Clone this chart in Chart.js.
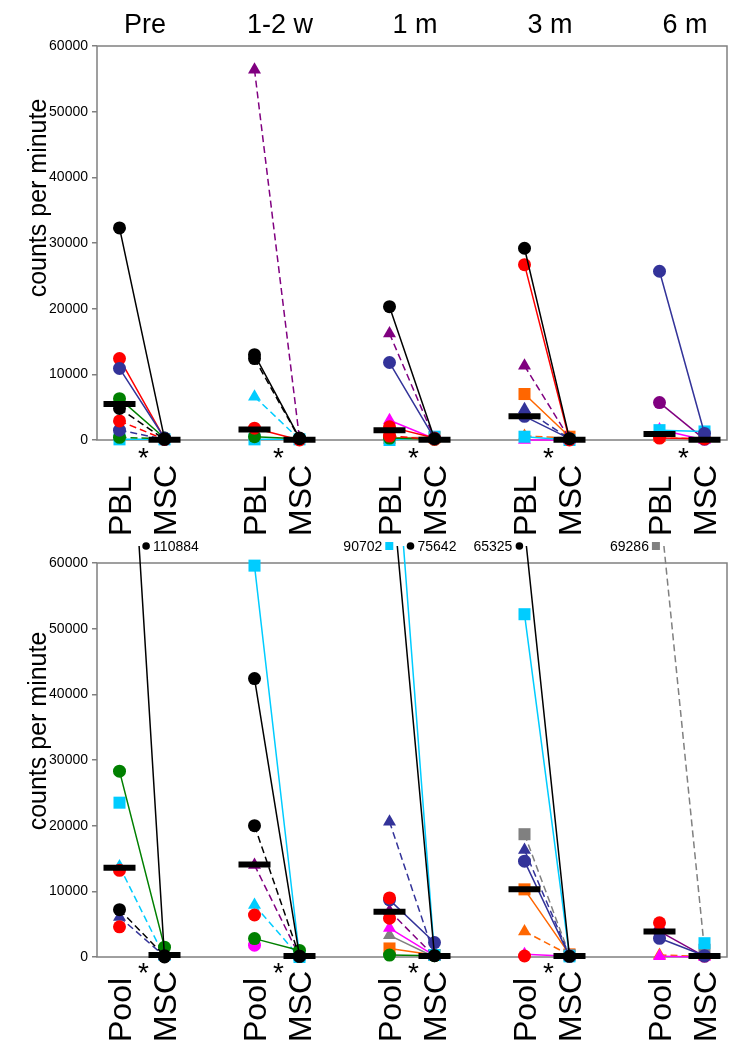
<!DOCTYPE html>
<html><head><meta charset="utf-8">
<script src="https://cdn.jsdelivr.net/npm/chart.js@4"></script>
<style>
body{margin:0;background:#fff;width:750px;height:1050px;overflow:hidden;position:relative}
#c1{position:absolute;left:0;top:0;width:750px;height:545px}
#c2{position:absolute;left:0;top:525px;width:750px;height:525px}
</style>
</head><body>
<canvas id="c1" width="750" height="545"></canvas>
<canvas id="c2" width="750" height="525"></canvas>
<script>
// ---------- categories & ticks ----------
const timepoints = ['Pre', '1-2 w', '1 m', '3 m', '6 m'];
const yTickValues = [0, 10000, 20000, 30000, 40000, 50000, 60000];
const topGroupLabels = ['PBL', 'MSC'];
const bottomGroupLabels = ['Pool', 'MSC'];
const topSignificant = [true, true, true, true, true];
const bottomSignificant = [true, true, true, true, false];

// ---------- medians ----------
const topMedianPBL = [5500, 1600, 1500, 3600, 900];
const topMedianMSC = [50, 50, 50, 50, 50];
const bottomMedianPool = [13600, 14100, 6900, 10300, 3900];
const bottomMedianMSC = [300, 150, 150, 150, 150];

// ---------- top panel (PBL -> MSC), one value per timepoint ----------
const topBlackSolidPBL = [32300, 13000, 20300, 29200, null];
const topBlackSolidMSC = [200, 300, 200, 200, null];
const topBlackDashPBL = [4800, 12400, null, null, null];
const topBlackDashMSC = [100, 200, null, null, null];
const topRedSolidPBL = [12400, 1800, 2000, 26700, 300];
const topRedSolidMSC = [200, 0, 300, 0, 200];
const topRedDashPBL = [2900, null, 600, null, null];
const topRedDashMSC = [100, null, 100, null, null];
const topNavySolidPBL = [10900, null, 11800, 3600, 25700];
const topNavySolidMSC = [300, null, 200, 200, 1000];
const topNavyDashPBL = [1500, null, null, null, null];
const topNavyDashMSC = [100, null, null, null, null];
const topNavyTriPBL = [null, null, null, 4700, null];
const topNavyTriMSC = [null, null, null, 200, null];
const topGreenSolidPBL = [6300, 500, 300, null, null];
const topGreenSolidMSC = [300, 200, 100, null, null];
const topGreenDashPBL = [400, null, null, null, null];
const topGreenDashMSC = [200, null, null, null, null];
const topCyanSqPBL = [100, 100, 0, 500, 1500];
const topCyanSqMSC = [100, 100, 500, 0, 1300];
const topCyanTriPBL = [null, 6600, null, null, null];
const topCyanTriMSC = [null, 100, null, null, null];
const topPurpleTriPBL = [null, 56400, 16200, 11300, null];
const topPurpleTriMSC = [null, 200, 200, 200, null];
const topPurpleCirPBL = [null, null, null, null, 5700];
const topPurpleCirMSC = [null, null, null, null, 100];
const topOrangeSqPBL = [null, null, 300, 7000, null];
const topOrangeSqMSC = [null, null, 400, 500, null];
const topOrangeTriPBL = [null, null, null, 600, 300];
const topOrangeTriMSC = [null, null, null, 300, 200];
const topMagentaTriPBL = [null, null, 3000, 0, 1600];
const topMagentaTriMSC = [null, null, 200, 0, 0];

// ---------- bottom panel (Pool -> MSC) ----------
const botBlackSolidPool = [110884, 42400, 75642, 65325, null];
const botBlackSolidMSC = [0, 100, 200, 100, null];
const botBlackDashPool = [7200, 20000, null, null, null];
const botBlackDashMSC = [200, 100, null, null, null];
const botRedAPool = [13200, 6400, 9000, 150, 5200];
const botRedAMSC = [null, null, null, null, null];
const botRedBPool = [4600, null, 5900, null, null];
const botRedBMSC = [null, null, null, null, null];
const botNavySolidPool = [null, null, 8700, 14600, 2850];
const botNavySolidMSC = [null, null, 2200, 100, 200];
const botNavyTriPool = [6100, null, 20600, 16300, null];
const botNavyTriMSC = [100, null, 200, 200, null];
const botGreenSolidPool = [28300, 2800, 300, null, null];
const botGreenSolidMSC = [1500, 1000, 200, null, null];
const botCyanSqPool = [23500, 59600, 90702, 52200, null];
const botCyanSqMSC = [null, 0, 300, 100, 2100];
const botCyanTriPool = [13800, 7900, null, null, null];
const botCyanTriMSC = [0, 0, null, null, null];
const botPurpleTriPool = [null, 14000, 7000, null, null];
const botPurpleTriMSC = [null, 100, 100, null, null];
const botPurpleCirPool = [null, null, null, null, 3900];
const botPurpleCirMSC = [null, null, null, null, 100];
const botMagentaCirPool = [null, 1800, null, null, null];
const botMagentaCirMSC = [null, null, null, null, null];
const botMagentaTriPool = [null, null, 4400, 400, 100];
const botMagentaTriMSC = [null, null, 200, 100, 0];
const botGreyTriPool = [null, null, 3300, null, null];
const botGreyTriMSC = [null, null, 0, null, null];
const botGreySqPool = [null, null, null, 18700, 69286];
const botGreySqMSC = [null, null, null, 300, 1100];
const botOrangeSqPool = [null, null, 1300, 10300, null];
const botOrangeSqMSC = [null, null, 300, 400, null];
const botOrangeTriPool = [null, null, null, 3900, 300];
const botOrangeTriMSC = [null, null, null, 300, 100];

// off-scale annotation side (label left/right of the line)
const offScaleSide = { blackSolid: ['right', null, 'right', 'left', null], cyanSq: [null, null, 'left', null, null], greySq: [null, null, null, null, 'left'] };

// ---------- styles ----------
const STYLES = {
  blackSolid: ['#000000', 'circle', false], blackDash: ['#000000', 'circle', true],
  redSolid: ['#ff0000', 'circle', false], redDash: ['#ff0000', 'circle', true],
  navySolid: ['#333399', 'circle', false], navyDash: ['#333399', 'circle', true],
  navyTri: ['#333399', 'triangle', true],
  greenSolid: ['#008000', 'circle', false], greenDash: ['#008000', 'circle', true],
  cyanSq: ['#00ccff', 'rect', false], cyanTri: ['#00ccff', 'triangle', true],
  purpleTri: ['#800080', 'triangle', true], purpleCir: ['#800080', 'circle', false],
  orangeSq: ['#ff6600', 'rect', false], orangeTri: ['#ff6600', 'triangle', true],
  magentaTri: ['#ff00ff', 'triangle', false], magentaCir: ['#ff00ff', 'circle', false],
  greyTri: ['#808080', 'triangle', false], greySq: ['#808080', 'rect', true],
  redA: ['#ff0000', 'circle', false], redB: ['#ff0000', 'circle', false]
};

const topSeries = [
  ['blackSolid', topBlackSolidPBL, topBlackSolidMSC], ['blackDash', topBlackDashPBL, topBlackDashMSC],
  ['navySolid', topNavySolidPBL, topNavySolidMSC], ['redSolid', topRedSolidPBL, topRedSolidMSC],
  ['redDash', topRedDashPBL, topRedDashMSC], ['navyDash', topNavyDashPBL, topNavyDashMSC],
  ['navyTri', topNavyTriPBL, topNavyTriMSC], ['greenSolid', topGreenSolidPBL, topGreenSolidMSC],
  ['greenDash', topGreenDashPBL, topGreenDashMSC], ['cyanSq', topCyanSqPBL, topCyanSqMSC],
  ['cyanTri', topCyanTriPBL, topCyanTriMSC], ['purpleTri', topPurpleTriPBL, topPurpleTriMSC],
  ['purpleCir', topPurpleCirPBL, topPurpleCirMSC], ['orangeSq', topOrangeSqPBL, topOrangeSqMSC],
  ['orangeTri', topOrangeTriPBL, topOrangeTriMSC], ['magentaTri', topMagentaTriPBL, topMagentaTriMSC]
];
const bottomSeries = [
  ['blackSolid', botBlackSolidPool, botBlackSolidMSC], ['blackDash', botBlackDashPool, botBlackDashMSC],
  ['redA', botRedAPool, botRedAMSC], ['redB', botRedBPool, botRedBMSC],
  ['navySolid', botNavySolidPool, botNavySolidMSC], ['navyTri', botNavyTriPool, botNavyTriMSC],
  ['greenSolid', botGreenSolidPool, botGreenSolidMSC], ['cyanSq', botCyanSqPool, botCyanSqMSC],
  ['cyanTri', botCyanTriPool, botCyanTriMSC], ['purpleTri', botPurpleTriPool, botPurpleTriMSC],
  ['purpleCir', botPurpleCirPool, botPurpleCirMSC], ['magentaCir', botMagentaCirPool, botMagentaCirMSC],
  ['magentaTri', botMagentaTriPool, botMagentaTriMSC], ['greyTri', botGreyTriPool, botGreyTriMSC],
  ['greySq', botGreySqPool, botGreySqMSC], ['orangeSq', botOrangeSqPool, botOrangeSqMSC],
  ['orangeTri', botOrangeTriPool, botOrangeTriMSC]
];

const FONT = '"Liberation Sans", Arial, sans-serif';
const radiusFor = { circle: 6.5, rect: 8.5, triangle: 7.5 };

function buildDatasets(series, medA, medB, clipTop) {
  const ds = [];
  const medData = [];
  timepoints.forEach((t, i) => { medData.push({ x: 3 * i, y: medA[i] }, { x: 3 * i + 1, y: medB[i] }); });
  ds.push({ data: medData, showLine: false, pointStyle: 'line', pointRadius: 16, pointBorderWidth: 6,
    borderColor: '#000', backgroundColor: '#000', order: 0, clip: { left: 20, right: 20, top: clipTop, bottom: 20 } });
  series.forEach(([key, a, b]) => {
    const [color, shape, dashed] = STYLES[key];
    const data = [];
    timepoints.forEach((t, i) => {
      if (a[i] != null) data.push({ x: 3 * i, y: a[i] });
      if (b[i] != null) data.push({ x: 3 * i + 1, y: b[i] });
      data.push({ x: 3 * i + 2, y: null });
    });
    ds.push({ data, showLine: true, spanGaps: false, borderColor: color, backgroundColor: color,
      borderWidth: 1.5, borderDash: dashed ? [7, 4] : [], pointStyle: shape, pointRadius: radiusFor[shape],
      pointBorderWidth: 0, pointBackgroundColor: color, pointBorderColor: color, order: 1,
      clip: { left: 20, right: 20, top: clipTop, bottom: 20 }, _key: key, _a: a, _b: b });
  });
  return ds;
}

const decor = {
  id: 'decor',
  beforeDatasetsDraw(chart, args, o) {
    const { ctx, chartArea: a } = chart;
    ctx.save(); ctx.strokeStyle = '#808080'; ctx.lineWidth = 1.5;
    ctx.strokeRect(a.left, a.top, a.right - a.left, a.bottom - a.top);
    ctx.restore();
  },
  afterDatasetsDraw(chart, args, o) {
    const { ctx, chartArea: a, scales: { x, y } } = chart;
    const yc = a.top - o.clipTop;
    const items = [];
    chart.data.datasets.forEach(d => {
      if (!d._key || !offScaleSide[d._key]) return;
      timepoints.forEach((t, i) => {
        const v = d._a[i], m = d._b[i], side = offScaleSide[d._key][i];
        if (v == null || m == null || !side || v <= y.max) return;
        const x1 = x.getPixelForValue(3 * i), y1 = y.getPixelForValue(v);
        const x2 = x.getPixelForValue(3 * i + 1), y2 = y.getPixelForValue(m);
        items.push({ i, v, side, key: d._key, xc: x1 + (x2 - x1) * (yc - y1) / (y2 - y1) });
      });
    });
    ctx.save();
    items.forEach(it => {
      const group = items.filter(o2 => o2.i === it.i).map(o2 => o2.xc);
      const sgn = it.side === 'right' ? 1 : -1;
      const edge = sgn > 0 ? Math.max(...group) : Math.min(...group);
      const shape = STYLES[it.key][1];
      const mx = edge + sgn * (shape === 'rect' ? 8 : 7);
      ctx.fillStyle = STYLES[it.key][0];
      if (shape === 'rect') ctx.fillRect(mx - 4, yc - 4, 8, 8);
      else { ctx.beginPath(); ctx.arc(mx, yc, 3.8, 0, Math.PI * 2); ctx.fill(); }
      ctx.fillStyle = '#000'; ctx.font = '14px ' + FONT; ctx.textBaseline = 'middle';
      ctx.textAlign = sgn > 0 ? 'left' : 'right';
      ctx.fillText(String(it.v), mx + sgn * 7, yc + 1);
    });
    ctx.restore();
  },
  afterDraw(chart, args, o) {
    const { ctx, chartArea: a, scales: { x } } = chart;
    ctx.save(); ctx.fillStyle = '#000';
    ctx.save();
    ctx.translate(o.yTitleX, (a.top + a.bottom) / 2 + o.yTitleShift);
    ctx.rotate(-Math.PI / 2);
    ctx.font = '25px ' + FONT; ctx.textAlign = 'center'; ctx.textBaseline = 'middle';
    ctx.fillText('counts per minute', 0, 0);
    ctx.restore();
    timepoints.forEach((t, i) => {
      const x0 = x.getPixelForValue(3 * i), x1 = x.getPixelForValue(3 * i + 1);
      if (o.titles) {
        ctx.font = '27px ' + FONT; ctx.textAlign = 'center'; ctx.textBaseline = 'middle';
        ctx.fillText(t, (x0 + x1) / 2 + 3, o.titleY);
      }
      if (o.sig[i]) {
        ctx.font = '28px ' + FONT; ctx.textAlign = 'center'; ctx.textBaseline = 'alphabetic';
        ctx.fillText('*', (x0 + x1) / 2 + 1.5, a.bottom + o.starOffset);
      }
      o.labels.forEach((lab, k) => {
        const px = k ? x1 : x0;
        ctx.save(); ctx.translate(px + 3, a.bottom + o.labelOffset); ctx.rotate(-Math.PI / 2);
        ctx.font = '32px ' + FONT; ctx.textAlign = 'left'; ctx.textBaseline = 'middle';
        ctx.fillText(lab, 0, 0); ctx.restore();
      });
    });
    ctx.restore();
  }
};

function makeChart(id, series, medA, medB, pad, clipTop, decorOpts) {
  return new Chart(document.getElementById(id), {
    type: 'scatter',
    data: { datasets: buildDatasets(series, medA, medB, clipTop) },
    options: {
      responsive: false, animation: false, devicePixelRatio: 1,
      layout: { padding: pad },
      plugins: { legend: { display: false }, tooltip: { enabled: false }, decor: Object.assign({ clipTop }, decorOpts) },
      scales: {
        x: { type: 'linear', min: -0.5, max: 13.5, display: false },
        y: {
          min: 0, max: 60000,
          afterFit: s => { s.width = 97; },
          afterBuildTicks: s => { s.ticks = yTickValues.map(v => ({ value: v })); },
          border: { display: false },
          grid: { drawOnChartArea: false, drawTicks: true, tickLength: 5, color: '#808080', lineWidth: 1.5 },
          ticks: { color: '#000', font: { family: FONT, size: 14 }, padding: 4, callback: v => String(v) }
        }
      }
    },
    plugins: [decor]
  });
}

makeChart('c1', topSeries, topMedianPBL, topMedianMSC, { top: 46, right: 23, bottom: 105, left: 0 }, 10,
  { titles: true, titleY: 26, sig: topSignificant, labels: topGroupLabels, labelOffset: 96, starOffset: 27,
    yTitleX: 39, yTitleShift: -45 });
makeChart('c2', bottomSeries, bottomMedianPool, bottomMedianMSC, { top: 38, right: 23, bottom: 93, left: 0 }, 17,
  { titles: false, titleY: 0, sig: bottomSignificant, labels: bottomGroupLabels, labelOffset: 85, starOffset: 25,
    yTitleX: 39, yTitleShift: -29 });
</script>
</body></html>
